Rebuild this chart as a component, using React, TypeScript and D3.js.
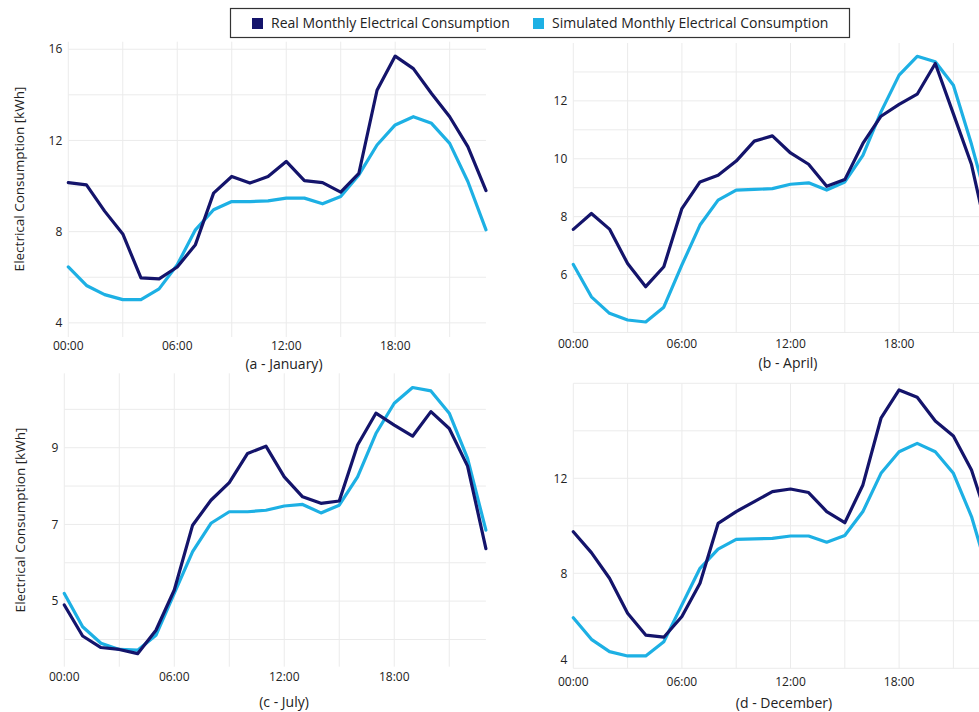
import React from "react";
import * as d3 from "d3";

const hours = [0, 1, 2, 3, 4, 5, 6, 7, 8, 9, 10, 11, 12, 13, 14, 15, 16, 17, 18, 19, 20, 21, 22, 23];
const xTickHours = [0, 6, 12, 18];
const xTickLabels = ["00:00", "06:00", "12:00", "18:00"];
const xGridHours = [0, 3, 6, 9, 12, 15, 18, 21];

const seriesNames = ["Real Monthly Electrical Consumption", "Simulated Monthly Electrical Consumption"];
const seriesColors = ["#14146b", "#1db0e4"];

const janReal = [10.15, 10.05, 8.9, 7.9, 5.97, 5.93, 6.45, 7.43, 9.69, 10.42, 10.13, 10.42, 11.08, 10.24, 10.15, 9.73, 10.56, 14.2, 15.7, 15.15, 14.06, 13.04, 11.73, 9.8];
const janSim = [6.45, 5.64, 5.24, 5.02, 5.02, 5.49, 6.55, 8.08, 8.96, 9.32, 9.32, 9.35, 9.47, 9.47, 9.22, 9.54, 10.49, 11.8, 12.68, 13.04, 12.75, 11.87, 10.2, 8.08];

const aprReal = [7.56, 8.11, 7.57, 6.38, 5.58, 6.27, 8.28, 9.2, 9.43, 9.92, 10.61, 10.79, 10.2, 9.81, 9.05, 9.28, 10.53, 11.47, 11.88, 12.23, 13.29, 11.55, 9.8, 7.0];
const aprSim = [6.35, 5.23, 4.66, 4.43, 4.36, 4.87, 6.33, 7.71, 8.57, 8.92, 8.94, 8.97, 9.12, 9.17, 8.92, 9.2, 10.12, 11.62, 12.89, 13.54, 13.35, 12.54, 10.5, 8.2];

const julReal = [4.9, 4.09, 3.79, 3.74, 3.63, 4.24, 5.29, 6.98, 7.63, 8.09, 8.85, 9.04, 8.24, 7.72, 7.55, 7.61, 9.07, 9.9, 9.59, 9.3, 9.94, 9.5, 8.52, 6.37];
const julSim = [5.2, 4.33, 3.9, 3.74, 3.72, 4.11, 5.2, 6.29, 7.03, 7.33, 7.33, 7.37, 7.48, 7.52, 7.3, 7.5, 8.24, 9.37, 10.16, 10.57, 10.48, 9.9, 8.72, 6.85];

const decReal = [9.75, 8.87, 7.79, 6.32, 5.4, 5.31, 6.18, 7.58, 10.1, 10.6, 11.02, 11.44, 11.55, 11.4, 10.6, 10.13, 11.72, 14.53, 15.72, 15.41, 14.41, 13.78, 12.35, 10.0];
const decSim = [6.13, 5.22, 4.7, 4.52, 4.52, 5.12, 6.67, 8.21, 9.02, 9.43, 9.45, 9.47, 9.57, 9.57, 9.31, 9.59, 10.6, 12.21, 13.12, 13.47, 13.12, 12.21, 10.39, 7.8];

const panelTitles = ["(a - January)", "(b - April)", "(c - July)", "(d - December)"];
const yAxisTitle = "Electrical Consumption [kWh]";

const FONT = "'Open Sans', 'Noto Sans', sans-serif";

type Panel = {
  title: string;
  real: number[];
  sim: number[];
  x0: number; x1: number; y0: number; y1: number;
  yDomain: [number, number];
  yGrid: number[];
  yLabels: number[];
  xLabelY: number;
  titleX: number; titleY: number;
  yTitle: boolean; yTitleX: number; yTitleY: number;
  minLabelShift: number;
};

const panels: Panel[] = [
  { title: panelTitles[0], real: janReal, sim: janSim, x0: 68.3, x1: 486, y0: 41.7, y1: 337, yDomain: [3.38, 16.33],
    yGrid: [4, 6, 8, 10, 12, 14, 16], yLabels: [4, 8, 12, 16], xLabelY: 350, titleX: 284, titleY: 369, yTitle: true, yTitleX: 19, yTitleY: 179, minLabelShift: 0 },
  { title: panelTitles[1], real: aprReal, sim: aprSim, x0: 573.3, x1: 989.6, y0: 43, y1: 333, yDomain: [3.98, 14],
    yGrid: [4, 5, 6, 7, 8, 9, 10, 11, 12, 13], yLabels: [6, 8, 10, 12], xLabelY: 348, titleX: 788, titleY: 368, yTitle: false, yTitleX: 0, yTitleY: 0, minLabelShift: 0 },
  { title: panelTitles[2], real: julReal, sim: julSim, x0: 64.3, x1: 485.9, y0: 373.3, y1: 666.7, yDomain: [3.29, 10.94],
    yGrid: [4, 5, 6, 7, 8, 9, 10], yLabels: [5, 7, 9], xLabelY: 681, titleX: 284, titleY: 707, yTitle: true, yTitleX: 20, yTitleY: 520, minLabelShift: 0 },
  { title: panelTitles[3], real: decReal, sim: decSim, x0: 573.3, x1: 989.6, y0: 383.3, y1: 668.3, yDomain: [4, 16],
    yGrid: [4, 6, 8, 10, 12, 14, 16], yLabels: [4, 8, 12], xLabelY: 686, titleX: 784, titleY: 708, yTitle: false, yTitleX: 0, yTitleY: 0, minLabelShift: 9 },
];

function ChartPanel({ p, idx }: { p: Panel; idx: number }) {
  const x = d3.scaleLinear().domain([0, 23]).range([p.x0, p.x1]);
  const y = d3.scaleLinear().domain(p.yDomain).range([p.y1, p.y0]);
  const line = d3.line<number>().x((_, i) => x(hours[i])).y((v) => y(v)).curve(d3.curveLinear);
  const clipId = `clip-${idx}`;
  return (
    <g>
      <defs>
        <clipPath id={clipId}>
          <rect x={p.x0 - 4} y={p.y0 - 6} width={p.x1 - p.x0 + 8} height={p.y1 - p.y0 + 12} />
        </clipPath>
      </defs>
      {p.yGrid.map((v) => (
        <line key={"yg" + v} x1={p.x0} x2={p.x1} y1={y(v)} y2={y(v)} stroke="#ebebeb" strokeWidth={1} />
      ))}
      {xGridHours.map((h) => (
        <line key={"xg" + h} x1={x(h)} x2={x(h)} y1={p.y0} y2={p.y1} stroke="#ebebeb" strokeWidth={1} />
      ))}
      {p.yLabels.map((v) => (
        <text key={"yl" + v} x={p.x0 - 6} y={y(v) - (v === p.yDomain[0] ? p.minLabelShift : 0)} dy="0.35em" textAnchor="end"
          fontFamily={FONT} fontSize={12} fill="#222">{v}</text>
      ))}
      {xTickHours.map((h, i) => (
        <text key={"xl" + h} x={x(h)} y={p.xLabelY} textAnchor="middle" fontFamily={FONT} fontSize={12} fill="#222">
          {xTickLabels[i]}
        </text>
      ))}
      <g clipPath={`url(#${clipId})`}>
        <path d={line(p.sim) || ""} fill="none" stroke={seriesColors[1]} strokeWidth={3.2} strokeLinejoin="round" strokeLinecap="round" />
        <path d={line(p.real) || ""} fill="none" stroke={seriesColors[0]} strokeWidth={3.2} strokeLinejoin="round" strokeLinecap="round" />
      </g>
      <text x={p.titleX} y={p.titleY} textAnchor="middle" fontFamily={FONT} fontSize={14} fill="#222">{p.title}</text>
      {p.yTitle && (
        <text transform={`translate(${p.yTitleX},${p.yTitleY}) rotate(-90)`} textAnchor="middle" dy="0.35em"
          fontFamily={FONT} fontSize={13.5} fill="#222">{yAxisTitle}</text>
      )}
    </g>
  );
}

export default function App() {
  return (
    <div style={{ position: "absolute", left: 0, top: 0, width: 979, height: 712, overflow: "hidden", background: "#fff" }}>
      <svg width={979} height={712} style={{ display: "block" }}>
        <rect x={0} y={0} width={979} height={712} fill="#fff" />
        {panels.map((p, i) => (
          <ChartPanel key={i} p={p} idx={i} />
        ))}
        <rect x={230.5} y={8.5} width={619} height={29} fill="#fff" stroke="#333" strokeWidth={1.2} />
        <rect x={252} y={18} width={11} height={11} fill={seriesColors[0]} />
        <text x={271} y={23.5} dy="0.35em" fontFamily={FONT} fontSize={14} fill="#222">{seriesNames[0]}</text>
        <rect x={533} y={18} width={11} height={11} fill={seriesColors[1]} />
        <text x={552} y={23.5} dy="0.35em" fontFamily={FONT} fontSize={14} fill="#222">{seriesNames[1]}</text>
      </svg>
    </div>
  );
}
